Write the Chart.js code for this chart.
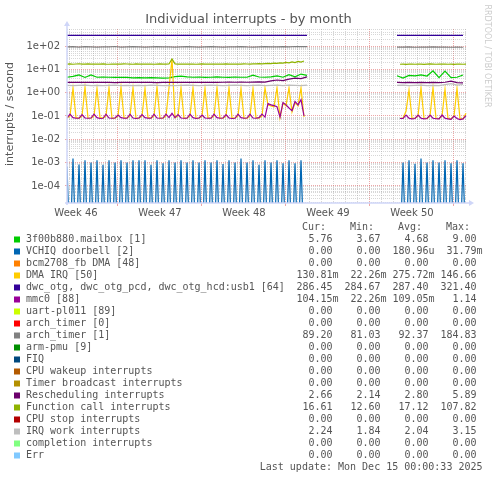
<!DOCTYPE html>
<html><head><meta charset="utf-8">
<script src="https://cdn.jsdelivr.net/npm/chart.js@4.4.1/dist/chart.umd.min.js"></script>
<style>html,body{margin:0;padding:0;background:#fff;}canvas{display:block}</style>
</head><body>
<canvas id="c" width="497" height="480"></canvas>
<script>
// ---------- legend / series metadata ----------
const seriesNames = ['3f00b880.mailbox [1]','VCHIQ doorbell [2]','bcm2708_fb DMA [48]','DMA IRQ [50]',
  'dwc_otg, dwc_otg_pcd, dwc_otg_hcd:usb1 [64]','mmc0 [88]','uart-pl011 [89]','arch_timer [0]','arch_timer [1]',
  'arm-pmu [9]','FIQ','CPU wakeup interrupts','Timer broadcast interrupts','Rescheduling interrupts',
  'Function call interrupts','CPU stop interrupts','IRQ work interrupts','completion interrupts','Err'];
const seriesColors = ['#00CC00','#0066B3','#FF8000','#FFCC00','#330099','#990099','#CCFF00','#FF0000','#808080',
  '#008F00','#00487D','#B35A00','#B38F00','#6B006B','#8FB300','#B30000','#BEBEBE','#80FF80','#80C9FF'];
const curVals = ['5.76','0.00','0.00','130.81m','286.45','104.15m','0.00','0.00','89.20','0.00','0.00','0.00','0.00','2.66','16.61','0.00','2.24','0.00','0.00'];
const minVals = ['3.67','0.00','0.00','22.26m','284.67','22.26m','0.00','0.00','81.03','0.00','0.00','0.00','0.00','2.14','12.60','0.00','1.84','0.00','0.00'];
const avgVals = ['4.68','180.96u','0.00','275.72m','287.40','109.05m','0.00','0.00','92.37','0.00','0.00','0.00','0.00','2.80','17.12','0.00','2.04','0.00','0.00'];
const maxVals = ['9.00','31.79m','0.00','146.66','321.40','1.14','0.00','0.00','184.83','0.00','0.00','0.00','0.00','5.89','107.82','0.00','3.15','0.00','0.00'];

// ---------- axis labels ----------
const weekLabels = ['Week 46','Week 47','Week 48','Week 49','Week 50'];
const weekLabelDays = [0.75, 7.75, 14.75, 21.75, 28.75];
const yTickLabels = ['1e-04','1e-03','1e-02','1e-01','1e+00','1e+01','1e+02'];
const yTickDecades = [1e-4, 1e-3, 1e-2, 1e-1, 1, 10, 100];

// ---------- time grid (days from left edge of plot) ----------
const fineStep = 0.25, coarseStep = 0.5;
const seg2StartFine = 27.75, seg2StartCoarse = 27.5, gapDay = 24;

// fine series (6 h steps)
const vchiqSeg1 = [6.6e-4,0,1.5e-3,0,8.3e-4,0,1.25e-3,0,1.0e-3,0,
  1.25e-3,0,8.0e-4,0,1.25e-3,0,1.0e-3,0,1.25e-3,0,
  1.0e-3,0,1.25e-3,0,1.25e-3,0,1.25e-3,0,8.0e-4,0,
  1.25e-3,0,9.3e-4,0,1.25e-3,0,1.0e-3,0,1.25e-3,0,
  1.0e-3,0,1.25e-3,0,1.0e-3,0,1.25e-3,0,1.0e-3,0,
  1.25e-3,0,8.8e-4,0,1.25e-3,0,1.0e-3,0,1.5e-3,0,
  1.0e-3,0,1.25e-3,0,8.0e-4,0,1.25e-3,0,1.0e-3,0,
  1.25e-3,0,9.3e-4,0,1.25e-3,0,9.3e-4,0,1.25e-3,0];
const vchiqSeg2 = [0,1.0e-3,0,1.25e-3,0,9.0e-4,0,1.5e-3,0,1.0e-3,0,1.25e-3,0,1.0e-3,0,1.25e-3,0,9.3e-4,0,1.25e-3,0,9.3e-4,0];

const dmaSeg1 = [0.082,0.10,1.6,0.085, 0.08,0.10,1.7,0.082, 0.08,0.10,1.5,0.085, 0.082,0.10,1.6,0.08,
  0.08,0.10,1.7,0.082, 0.082,0.10,1.6,0.08, 0.08,0.10,1.5,0.085, 0.082,0.10,1.7,0.08,
  0.08,0.10,1.6,28, 0.085,0.10,1.6,0.08, 0.082,0.10,1.6,0.08, 0.08,0.10,1.5,0.082,
  0.082,0.10,1.6,0.08, 0.08,0.10,1.6,0.082, 0.082,0.10,1.5,0.08, 0.08,0.10,1.5,0.085,
  0.082,0.10,1.6,0.30, 0.27,0.25,1.6,0.085, 0.35,0.27,1.6,0.15, 0.38,0.27,1.6,0.09];
const dmaSeg2 = [0.08,0.08,0.16,1.3,0.08,0.08,0.10,1.65,0.08,0.078,0.10,1.65,0.08,0.078,0.10,1.4,0.08,0.075,0.10,1.5,0.078,0.075,0.13];

const mmcSeg1 = [0.082,0.12,0.085,0.08, 0.08,0.115,0.082,0.08, 0.082,0.12,0.085,0.078, 0.08,0.12,0.082,0.08,
  0.082,0.11,0.085,0.08, 0.08,0.12,0.082,0.078, 0.082,0.115,0.085,0.08, 0.08,0.12,0.082,0.08,
  0.082,0.12,0.085,0.13, 0.085,0.115,0.082,0.08, 0.08,0.12,0.085,0.078, 0.082,0.11,0.082,0.08,
  0.08,0.12,0.085,0.08, 0.082,0.115,0.082,0.078, 0.08,0.12,0.085,0.08, 0.082,0.12,0.082,0.08,
  0.085,0.12,0.09,0.34, 0.30,0.28,0.25,0.09, 0.38,0.30,0.22,0.17, 0.42,0.30,0.50,0.10];
const mmcSeg2 = [0.078,0.078,0.11,0.08,0.076,0.078,0.11,0.08,0.075,0.078,0.11,0.08,0.076,0.075,0.11,0.08,0.075,0.072,0.10,0.078,0.07,0.075,0.104];

const funcSeg1 = [16.8,17.2,16.6,17.0,17.4,16.9,16.7,17.1,16.8,17.0,
  16.9,16.7,17.3,16.8,16.6,17.0,16.9,16.7,16.8,17.1,
  17.0,16.8,16.6,17.2,16.9,16.7,16.9,17.0,16.8,16.6,
  16.9,17.1,16.8,16.7,17.0,28,17.2,16.8,16.9,16.7,
  16.8,17.0,16.9,16.6,16.8,17.1,16.9,16.7,16.8,17.0,
  16.9,16.7,16.8,17.2,16.9,16.8,17.0,16.8,16.9,17.1,
  17.0,16.9,17.3,17.1,17.5,17.2,17.6,18.0,17.7,18.4,
  18.0,19.0,18.5,19.8,19.2,21.0,19.6,22.0,20.5,23.0];
const funcSeg2 = [16.6,16.8,16.5,16.7,16.9,16.6,16.8,16.7,16.5,16.8,17.2,16.9,16.6,16.8,16.7,16.9,16.6,16.8,16.5,16.7,16.9,16.6,16.8];

// coarse series (12 h steps)
const dwcSeg1 = [287.0,287.2,286.9,287.1,287.0,286.8,287.1,287.0,287.2,286.9,
  287.0,287.1,286.9,287.0,287.2,287.0,286.8,287.1,287.0,286.9,
  287.1,287.0,287.2,286.9,287.0,287.1,287.0,286.9,287.2,287.0,
  287.1,286.9,287.0,287.2,287.4,287.6,288.0,288.4,288.8,289.5,290.0];
const dwcSeg2 = [286.6,286.5,286.7,286.4,286.6,286.5,286.7,286.5,286.4,286.6,286.5,286.45];

const arch1Seg1 = [92,94,91,95,92,90,93,92,96,91,92,94,92,90,93,95,92,93,91,92,94,92,91,93,94,92,90,93,92,95,92,91,93,94,92,93,95,93,96,94,95];
const arch1Seg2 = [91,90,92,89,91,90,92,90,91,89,90,89.2];

const mailSeg1 = [4.6,5.0,5.8,4.5,5.8,4.6,4.7,4.6,4.5,4.6,
  4.5,4.3,4.4,4.3,4.4,4.3,4.2,4.3,4.9,5.1,
  4.8,4.6,4.7,4.5,4.6,4.8,4.6,4.5,4.7,4.6,
  4.6,5.6,4.7,4.6,4.8,5.3,4.6,5.9,4.8,6.3,5.5];
const mailSeg2 = [5.3,4.2,5.5,5.3,5.8,5.2,8.6,4.4,8.4,4.4,4.6,5.76];

const reschedSeg1 = [2.75,2.8,2.75,2.8,2.75,2.75,2.8,2.75,2.7,2.75,2.8,2.75,2.75,2.8,2.75,2.7,2.75,2.8,2.75,2.8,
  2.75,2.75,2.8,2.75,2.8,2.75,2.8,2.85,2.8,2.85,2.8,2.85,2.9,2.85,3.2,3.5,3.3,3.8,4.2,4.0,4.8];
const reschedSeg2 = [2.75,2.7,2.75,2.7,2.75,2.7,2.75,2.7,2.8,3.1,2.7,2.66];

const irqSeg1 = [2.05,2.0,2.05,2.1,2.0,2.05,2.0,2.05,2.1,2.0,2.05,2.0,2.05,2.0,2.1,2.05,2.0,2.05,2.0,2.05,
  2.1,2.05,2.0,2.05,2.1,2.05,2.0,2.05,2.1,2.05,2.0,2.05,2.1,2.0,2.05,2.1,2.0,2.1,2.05,2.0,2.1];
const irqSeg2 = [2.05,2.1,2.0,2.05,2.1,2.0,2.05,2.0,2.2,2.45,2.1,2.24];

// ---------- build points ----------
// a log axis cannot show 0: zero readings are drawn far below the axis floor (clipped)
const logZero = 1e-7;
function pts(seg1, seg2, step, s2start) {
  const out = seg1.map((v, i) => ({x: i * step, y: v === 0 ? logZero : v}));
  out.push({x: gapDay, y: null});
  seg2.forEach((v, i) => out.push({x: s2start + i * step, y: v === 0 ? logZero : v}));
  return out;
}
const fine = (a, b) => pts(a, b, fineStep, seg2StartFine);
const coarse = (a, b) => pts(a, b, coarseStep, seg2StartCoarse);

function ds(idx, data) {
  return {label: seriesNames[idx], data, borderColor: seriesColors[idx], backgroundColor: seriesColors[idx],
    borderWidth: 1.2, pointRadius: 0, tension: 0, spanGaps: false, order: -idx, fill: false};
}
const datasets = [
  ds(0, coarse(mailSeg1, mailSeg2)),
  ds(1, fine(vchiqSeg1, vchiqSeg2)),
  ds(3, fine(dmaSeg1, dmaSeg2)),
  ds(4, coarse(dwcSeg1, dwcSeg2)),
  ds(5, fine(mmcSeg1, mmcSeg2)),
  ds(8, coarse(arch1Seg1, arch1Seg2)),
  ds(13, coarse(reschedSeg1, reschedSeg2)),
  ds(14, fine(funcSeg1, funcSeg2)),
  ds(16, coarse(irqSeg1, irqSeg2))
];

// ---------- axis ticks ----------
const xMin = 0, xMax = 33.333, firstDayLine = 1/6, firstWeekLine = 4 + 1/6;
const yMin = 1.85e-5, yMax = 540;
const xGridDays = [];
for (let d = firstDayLine; d <= xMax; d += 1) xGridDays.push(d);
const xTickVals = xGridDays.concat(weekLabelDays).sort((a, b) => a - b);
const isLabelDay = v => weekLabelDays.some(d => Math.abs(d - v) < 1e-6);
const isWeekLine = v => { const k = (v - firstWeekLine) / 7; return Math.abs(k - Math.round(k)) < 1e-6; };
const yTickVals = [];
for (let e = -5; e <= 2; e++) for (let m = 1; m <= 9; m++) {
  const v = Number((m * Math.pow(10, e)).toPrecision(6));
  if (v >= yMin && v <= yMax) yTickVals.push(v);
}
const decadeIndex = v => yTickDecades.findIndex(d => Math.abs(v / d - 1) < 1e-6);

const MINOR = 'rgba(150,150,150,0.38)', MAJOR = 'rgba(222,79,79,0.5)', AXIS = '#CFD6F8';
const TXT = '#555';

const deco = {
  id: 'deco',
  afterDraw(chart) {
    const ctx = chart.ctx, a = chart.chartArea;
    ctx.save();
    // axes with arrows
    ctx.strokeStyle = AXIS; ctx.fillStyle = AXIS; ctx.lineWidth = 1.5;
    ctx.beginPath(); ctx.moveTo(a.left, a.bottom + 2); ctx.lineTo(a.left, a.top - 4); ctx.stroke();
    ctx.beginPath(); ctx.moveTo(a.left - 3, a.top - 3); ctx.lineTo(a.left + 3, a.top - 3); ctx.lineTo(a.left, a.top - 8); ctx.closePath(); ctx.fill();
    ctx.beginPath(); ctx.moveTo(a.left - 2, a.bottom); ctx.lineTo(a.right + 3, a.bottom); ctx.stroke();
    ctx.beginPath(); ctx.moveTo(a.right + 2, a.bottom - 3); ctx.lineTo(a.right + 2, a.bottom + 3); ctx.lineTo(a.right + 7, a.bottom); ctx.closePath(); ctx.fill();
    // title
    ctx.fillStyle = TXT; ctx.textAlign = 'center'; ctx.textBaseline = 'middle';
    ctx.font = '13px "DejaVu Sans"';
    ctx.fillText('Individual interrupts - by month', chart.width / 2, 19.5);
    // y axis title
    ctx.save(); ctx.translate(10, 114); ctx.rotate(-Math.PI / 2);
    ctx.font = '11px "DejaVu Sans"'; ctx.fillText('interrupts / second', 0, 0); ctx.restore();
    // watermark
    ctx.save(); ctx.translate(487, 56); ctx.rotate(Math.PI / 2);
    ctx.fillStyle = '#cccccc'; ctx.font = '8px "DejaVu Sans"'; ctx.fillText('RRDTOOL / TOBI OETIKER', 0, 0); ctx.restore();
    // legend table
    ctx.font = '10px "DejaVu Sans Mono"'; ctx.textBaseline = 'middle';
    const colRight = [332.5, 380.5, 428.5, 476.5];
    const heads = ['Cur:', 'Min:', 'Avg:', 'Max:'];
    ctx.fillStyle = TXT; ctx.textAlign = 'left';
    heads.forEach((h, j) => ctx.fillText(h, colRight[j] - 30.5, 227.5));
    const cols = [curVals, minVals, avgVals, maxVals];
    seriesNames.forEach((n, i) => {
      const y = 239.5 + i * 12;
      ctx.fillStyle = seriesColors[i]; ctx.fillRect(14, y - 3, 6, 6);
      ctx.fillStyle = TXT; ctx.textAlign = 'left'; ctx.fillText(n, 26, y);
      cols.forEach((c, j) => {
        const s = c[i]; const unit = /[a-zA-Z]$/.test(s) ? s.slice(-1) : '';
        const num = unit ? s.slice(0, -1) : s;
        ctx.textAlign = 'right'; ctx.fillText(num, colRight[j], y);
        if (unit) { ctx.textAlign = 'left'; ctx.fillText(unit, colRight[j], y); }
      });
    });
    ctx.textAlign = 'right';
    ctx.fillText('Last update: Mon Dec 15 00:00:33 2025', 482.5, 467.5);
    ctx.restore();
  }
};

new Chart(document.getElementById('c'), {
  type: 'line',
  data: {datasets},
  options: {
    responsive: false, animation: false, devicePixelRatio: 1,
    layout: {padding: {left: 0, top: 29, right: 30, bottom: 257}},
    plugins: {legend: {display: false}, title: {display: false}, tooltip: {enabled: false}},
    scales: {
      x: {
        type: 'linear', min: xMin, max: xMax,
        afterFit: s => { s.height = 20; },
        afterBuildTicks: s => { s.ticks = xTickVals.map(v => ({value: v})); },
        border: {display: false, dash: [1, 1]},
        grid: {
          color: c => isLabelDay(c.tick.value) ? 'rgba(0,0,0,0)' : (isWeekLine(c.tick.value) ? MAJOR : MINOR),
          lineWidth: 1, drawTicks: true, tickLength: 3,
          tickColor: c => (!isLabelDay(c.tick.value) && isWeekLine(c.tick.value)) ? MAJOR : 'rgba(0,0,0,0)'
        },
        ticks: {
          autoSkip: false, maxRotation: 0, minRotation: 0, padding: 1, color: TXT,
          font: {family: 'DejaVu Sans', size: 10},
          callback: v => { const k = weekLabelDays.findIndex(d => Math.abs(d - v) < 1e-6); return k >= 0 ? weekLabels[k] : ''; }
        }
      },
      y: {
        type: 'logarithmic', min: yMin, max: yMax,
        afterFit: s => { s.width = 67; },
        afterBuildTicks: s => { s.ticks = yTickVals.map(v => ({value: v})); },
        border: {display: false, dash: [1, 1]},
        grid: {
          color: c => decadeIndex(c.tick.value) >= 0 ? MAJOR : MINOR,
          lineWidth: 1, drawTicks: true, tickLength: 2,
          tickColor: c => decadeIndex(c.tick.value) >= 0 ? MAJOR : 'rgba(0,0,0,0)'
        },
        ticks: {
          autoSkip: false, padding: 5, color: TXT,
          font: {family: 'DejaVu Sans', size: 10},
          callback: v => { const k = decadeIndex(v); return k >= 0 ? yTickLabels[k] : ''; }
        }
      }
    }
  },
  plugins: [deco]
});
</script>
</body></html>
